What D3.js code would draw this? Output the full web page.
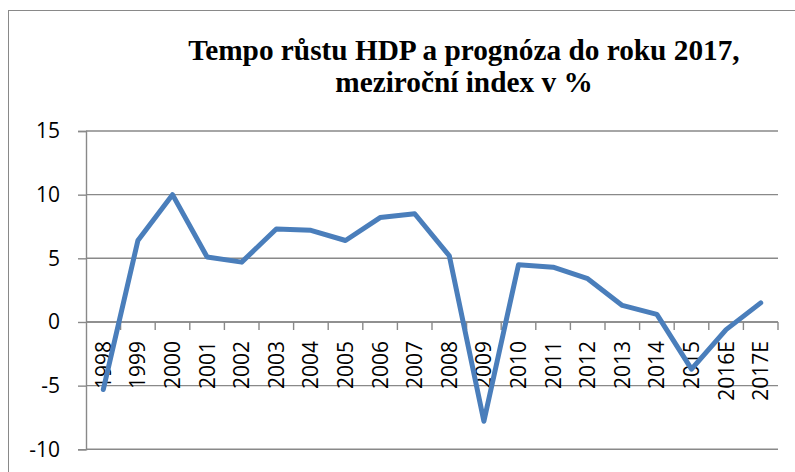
<!DOCTYPE html>
<html>
<head>
<meta charset="utf-8">
<script src="https://cdn.jsdelivr.net/npm/d3@7"></script>
<style>
  html, body { margin: 0; padding: 0; background: #fff; }
  svg { display: block; }
</style>
</head>
<body>
<svg id="chart" width="795" height="472"></svg>
<script>
const categories = ["1998","1999","2000","2001","2002","2003","2004","2005","2006","2007","2008","2009","2010","2011","2012","2013","2014","2015","2016E","2017E"];
const values = [-5.3, 6.4, 10.0, 5.1, 4.7, 7.3, 7.2, 6.4, 8.2, 8.5, 5.2, -7.8, 4.5, 4.3, 3.4, 1.3, 0.6, -3.7, -0.6, 1.5];
const yTicks = [-10, -5, 0, 5, 10, 15];
const titleLines = ["Tempo růstu HDP a prognóza do roku 2017,", "meziroční index v %"];

const svg = d3.select("#chart");
const plot = {left: 86, right: 778, top: 131, bottom: 449.3};
const gridColor = "#898989";
const labelFont = "'Open Sans', 'Liberation Sans', sans-serif";

// outer chart border (extends beyond visible frame)
svg.append("rect")
  .attr("x", 8.5).attr("y", 10.5)
  .attr("width", 840).attr("height", 520)
  .attr("fill", "none").attr("stroke", gridColor).attr("stroke-width", 1);

// title
const title = svg.append("text")
  .attr("text-anchor", "middle")
  .attr("font-family", "'Liberation Serif', 'Times New Roman', serif")
  .attr("font-weight", "bold")
  .attr("font-size", 29.3)
  .attr("fill", "#000");
title.selectAll("tspan").data(titleLines).join("tspan")
  .attr("x", 464)
  .attr("y", (d, i) => 60 + i * 31.7)
  .text(d => d);

const x = d3.scaleBand().domain(categories).range([plot.left, plot.right]).padding(0);
const y = d3.scaleLinear().domain([-10, 15]).range([plot.bottom, plot.top]);

// horizontal gridlines
svg.append("g").selectAll("line").data(yTicks).join("line")
  .attr("x1", plot.left).attr("x2", plot.right)
  .attr("y1", d => y(d)).attr("y2", d => y(d))
  .attr("stroke", gridColor).attr("stroke-width", 1.4);

// y axis
const yAxis = svg.append("g")
  .attr("transform", `translate(${plot.left},0)`)
  .call(d3.axisLeft(y).tickValues(yTicks).tickSize(8).tickPadding(18).tickFormat(d => String(d)));
yAxis.select(".domain").attr("stroke", gridColor).attr("stroke-width", 1.4);
yAxis.selectAll(".tick line").attr("stroke", gridColor).attr("stroke-width", 1.4);
yAxis.selectAll(".tick text")
  .attr("font-family", labelFont).attr("font-size", 21).attr("fill", "#000");

// x axis at y=0
const y0 = y(0);
const xg = svg.append("g");
xg.append("line")
  .attr("x1", plot.left).attr("x2", plot.right)
  .attr("y1", y0).attr("y2", y0)
  .attr("stroke", gridColor).attr("stroke-width", 1.4);
xg.selectAll("line.tk").data(categories).join("line")
  .attr("class", "tk")
  .attr("x1", d => x(d) + x.bandwidth()).attr("x2", d => x(d) + x.bandwidth())
  .attr("y1", y0).attr("y2", y0 + 8)
  .attr("stroke", gridColor).attr("stroke-width", 1.4);
xg.selectAll("text").data(categories).join("text")
  .attr("transform", d => `translate(${x(d) + x.bandwidth() / 2},${y0 + 19}) rotate(-90)`)
  .attr("text-anchor", "end")
  .attr("dy", "0.36em")
  .attr("font-family", labelFont).attr("font-size", 21).attr("fill", "#000")
  .text(d => d);

// line series
const line = d3.line()
  .x((d, i) => x(categories[i]) + x.bandwidth() / 2)
  .y(d => y(d));
svg.append("path")
  .datum(values)
  .attr("d", line)
  .attr("fill", "none")
  .attr("stroke", "#4a7ebb")
  .attr("stroke-width", 5)
  .attr("stroke-linejoin", "round")
  .attr("stroke-linecap", "round");
</script>
</body>
</html>
